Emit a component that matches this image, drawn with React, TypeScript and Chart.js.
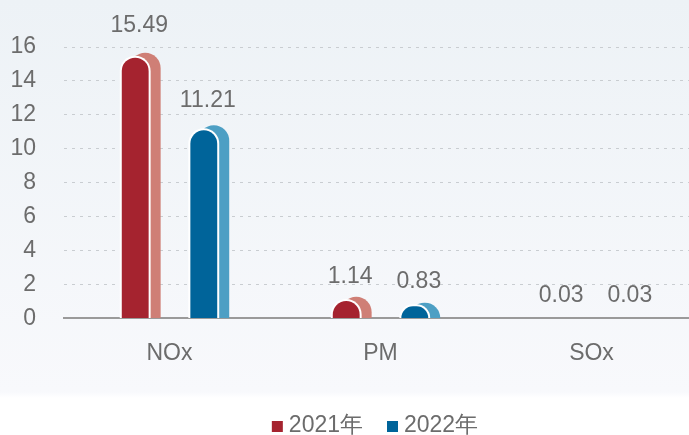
import React, { useEffect, useRef } from "react";
import { Chart, registerables } from "chart.js";

Chart.register(...registerables);

const categories = ["NOx", "PM", "SOx"];
const seriesNames = ["2021年", "2022年"];
const values2021 = [15.49, 1.14, 0.03];
const values2022 = [11.21, 0.83, 0.03];
const yTicks = [0, 2, 4, 6, 8, 10, 12, 14, 16];

const FRONT = ["#a5232f", "#00649a"];
const BACK = ["#cf7f76", "#4d9fc4"];
const TEXT = "#6c6c6c";
const FONT = "'Liberation Sans', Arial, sans-serif";
const FS = 23;

function topRounded(ctx: any, left: number, top: number, w: number, h: number) {
  const r = Math.max(0, Math.min(w / 2, h));
  ctx.beginPath();
  ctx.roundRect(left, top, w, h, [r, r, 0, 0]);
  ctx.fill();
}

const barPlugin = {
  id: "pillBars",
  beforeDatasetsDraw(chart: any) {
    const ctx = chart.ctx;
    const area = chart.chartArea;
    ctx.save();
    ctx.beginPath();
    ctx.rect(area.left, 0, chart.width, area.bottom);
    ctx.clip();
    // shadows
    chart.data.datasets.forEach((ds: any, di: number) => {
      const meta = chart.getDatasetMeta(di);
      meta.data.forEach((el: any) => {
        const p = el.getProps(["x", "y", "base", "width"], true);
        const h = p.base - p.y;
        const lift = Math.min(3, h * 0.12);
        const top = p.y - lift;
        const hh = p.base - top;
        if (hh <= 0.3) return;
        ctx.fillStyle = ds.shadowColor;
        topRounded(ctx, p.x - p.width / 2 + 10, top, p.width, hh);
      });
    });
    // fronts with white outline
    chart.data.datasets.forEach((ds: any, di: number) => {
      const meta = chart.getDatasetMeta(di);
      meta.data.forEach((el: any) => {
        const p = el.getProps(["x", "y", "base", "width"], true);
        const h = p.base - p.y;
        if (h <= 0.3) return;
        const left = p.x - p.width / 2;
        ctx.fillStyle = "#ffffff";
        topRounded(ctx, left, p.y, p.width, h);
        if (h > 2) {
          ctx.fillStyle = ds.backgroundColor;
          topRounded(ctx, left + 2, p.y + 2, p.width - 4, h - 2);
        }
      });
    });
    ctx.restore();
  },
  beforeDatasetDraw() {
    return false;
  },
};

const labelPlugin = {
  id: "valueLabels",
  afterDatasetsDraw(chart: any) {
    const ctx = chart.ctx;
    ctx.save();
    ctx.font = `${FS}px ${FONT}`;
    ctx.fillStyle = TEXT;
    ctx.textAlign = "center";
    ctx.textBaseline = "middle";
    chart.data.datasets.forEach((ds: any, di: number) => {
      const meta = chart.getDatasetMeta(di);
      meta.data.forEach((el: any, i: number) => {
        const p = el.getProps(["x", "y", "base"], true);
        const h = p.base - p.y;
        ctx.fillText(Number(ds.data[i]).toFixed(2), p.x + 4, p.y - (22 + h * 0.03));
      });
    });
    ctx.restore();
  },
};

const legendPlugin = {
  id: "customLegend",
  afterDraw(chart: any) {
    const ctx = chart.ctx;
    ctx.save();
    ctx.font = `${FS}px ${FONT}`;
    ctx.textBaseline = "middle";
    ctx.textAlign = "left";
    const box = 11;
    const gap = 6;
    const between = 24;
    const items = chart.data.datasets.map((ds: any) => ({
      label: ds.label,
      color: ds.backgroundColor,
      w: box + gap + ctx.measureText(ds.label).width,
    }));
    const total = items.reduce((s: number, it: any) => s + it.w, 0) + between * (items.length - 1);
    let x = chart.width / 2 - total / 2;
    const cy = chart.height - 9;
    items.forEach((it: any) => {
      ctx.fillStyle = it.color;
      ctx.fillRect(x, cy - box / 2 + 0.5, box, box);
      ctx.fillStyle = TEXT;
      ctx.fillText(it.label, x + box + gap, cy);
      x += it.w + between;
    });
    ctx.restore();
  },
};

export default function App() {
  const ref = useRef<HTMLCanvasElement>(null);

  useEffect(() => {
    document.body.style.margin = "0";
    if (!ref.current) return;
    const chart = new Chart(ref.current, {
      type: "bar",
      data: {
        labels: categories,
        datasets: [
          {
            label: seriesNames[0],
            data: values2021,
            backgroundColor: FRONT[0],
            shadowColor: BACK[0],
          } as any,
          {
            label: seriesNames[1],
            data: values2022,
            backgroundColor: FRONT[1],
            shadowColor: BACK[1],
          } as any,
        ],
      },
      options: {
        responsive: false,
        animation: false,
        layout: { padding: { top: 47, left: 0, right: 53, bottom: 47 } },
        datasets: {
          bar: { categoryPercentage: 0.65, barPercentage: 0.45 },
        },
        plugins: {
          legend: { display: false },
          tooltip: { enabled: false },
        },
        scales: {
          x: {
            z: 1,
            grid: { display: false, drawTicks: false },
            border: { display: true, color: "#9a9a9a", width: 2 },
            ticks: {
              padding: 21,
              color: TEXT,
              font: { family: FONT, size: FS },
            },
          },
          y: {
            min: 0,
            max: 16,
            afterFit(scale: any) {
              scale.width = 64;
            },
            afterBuildTicks(scale: any) {
              scale.ticks = yTicks.map((v) => ({ value: v }));
            },
            border: { display: false, dash: [3, 5] },
            grid: {
              drawTicks: false,
              color: (c: any) => (c.tick && c.tick.value === 0 ? "rgba(0,0,0,0)" : "#c9cdd1"),
              lineWidth: 1,
            },
            ticks: {
              padding: 28,
              color: TEXT,
              font: { family: FONT, size: FS },
            },
          },
        },
      },
      plugins: [barPlugin, labelPlugin, legendPlugin],
    } as any);
    return () => chart.destroy();
  }, []);

  return (
    <div
      style={{
        width: 689,
        height: 435,
        overflow: "hidden",
        position: "relative",
        background: "linear-gradient(to bottom, #edf2f6 0px, #f8f9fc 392px, #ffffff 398px)",
      }}
    >
      <canvas ref={ref} width={750} height={435} style={{ display: "block" }} />
    </div>
  );
}
